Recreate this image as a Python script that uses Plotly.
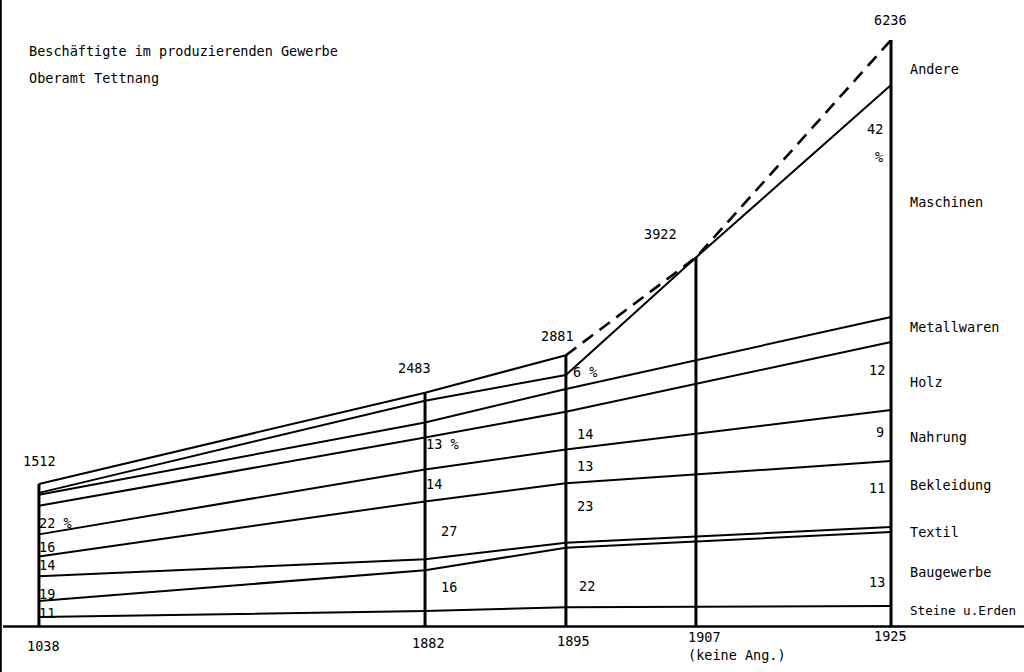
import plotly.graph_objects as go
import numpy as np

# ---------------- data ----------------
years = [1838, 1882, 1895, 1907, 1925]
year_labels = ["1038", "1882", "1895", "1907", "1925"]
year_note = "(keine Ang.)"
totals = [1512, 2483, 2881, 3922, 6236]

# years with a breakdown by branch (1907: keine Angaben)
data_years = [1838, 1882, 1895, 1925]
categories = ["Steine u.Erden", "Baugewerbe", "Textil", "Bekleidung", "Nahrung",
              "Holz", "Metallwaren", "Maschinen", "Andere"]
steine = [95, 159, 200, 213]
bau = [170, 435, 633, 787]
textil = [265, 117, 53, 53]
bekleidung = [210, 615, 633, 702]
nahrung = [235, 340, 359, 543]
holz = [305, 340, 401, 724]
metall = [117, 159, 243, 266]
maschinen = [20, 233, 148, 2469]
andere = [95, 85, 211, 479]

# percent labels written in the columns
pct_1838 = ["22 %", "16", "14", "19", "11"]
pct_1882 = ["13 %", "14", "27", "16"]
pct_1895 = ["6 %", "14", "13", "23", "22"]
pct_1925 = ["42", "%", "12", "9", "11", "13"]

title1 = "Beschäftigte im produzierenden Gewerbe"
title2 = "Oberamt Tettnang"

# ---------------- helpers ----------------
W, H = 1024, 672
BREAK_YEAR = 1882
COMPRESS = 0.8097  # the axis is compressed before 1882


def xpos(y):
    return y if y >= BREAK_YEAR else BREAK_YEAR - (BREAK_YEAR - y) * COMPRESS


X_RANGE = [1842.78, 1937.27]
Y_RANGE = [-489.5, 6661.7]
FONT = dict(family="DejaVu Sans Mono", size=13.5, color="black")
LW = 2.0

fig = go.Figure()

series = [steine, bau, textil, bekleidung, nahrung, holz, metall, maschinen, andere]
cum = np.cumsum(np.array(series), axis=0)
dx = [xpos(y) for y in data_years]

# internal boundaries (tops of Steine ... Metallwaren) drawn straight across 1907
for i in range(7):
    fig.add_trace(go.Scatter(x=dx, y=cum[i], mode="lines",
                             line=dict(color="black", width=LW), hoverinfo="skip"))

# top of Maschinen: passes through 1907 total (no "Andere" known there)
m_years = [1838, 1882, 1895, 1907, 1925]
m_vals = [cum[7][0], cum[7][1], cum[7][2], totals[3], cum[7][3]]
fig.add_trace(go.Scatter(x=[xpos(y) for y in m_years], y=m_vals, mode="lines",
                         line=dict(color="black", width=LW), hoverinfo="skip"))

# total line: solid up to 1895, dashed after
fig.add_trace(go.Scatter(x=[xpos(y) for y in years[:3]], y=totals[:3], mode="lines",
                         line=dict(color="black", width=LW), hoverinfo="skip"))
fig.add_trace(go.Scatter(x=[xpos(y) for y in years[2:]], y=totals[2:], mode="lines",
                         line=dict(color="black", width=2.6, dash="13px,8px"),
                         hoverinfo="skip"))

# vertical column lines
for y, t in zip(years, totals):
    fig.add_trace(go.Scatter(x=[xpos(y), xpos(y)], y=[-10, t], mode="lines",
                             line=dict(color="black", width=3), hoverinfo="skip"))

# base line and scan edge
fig.add_shape(type="line", xref="paper", yref="y", x0=0.003, x1=1, y0=-5, y1=-5,
              line=dict(color="black", width=2.5))
fig.add_shape(type="line", xref="paper", yref="paper", x0=0.0008, x1=0.0008, y0=0, y1=1,
              line=dict(color="black", width=2))


def txt(x, y, s, anchor="left", size=None):
    f = dict(FONT)
    if size:
        f["size"] = size
    fig.add_annotation(x=x / W, y=1 - y / H, xref="paper", yref="paper", text=s,
                       showarrow=False, xanchor=anchor, yanchor="middle", font=f,
                       borderpad=0)


# titles
txt(28, 51, title1)
txt(28, 78, title2)

# totals above columns
tot_pos = [(39, 461), (414, 368), (557, 336), (660, 234), (890, 20)]
for (x, y), t in zip(tot_pos, totals):
    txt(x, y, str(t), "center")

# year labels
yl_pos = [(43, 646), (428, 643), (573, 641), (687, 637), (890, 636)]
for (x, y), s in zip(yl_pos, year_labels):
    txt(x, y, s, "left" if s == "1907" else "center")
txt(687, 655, year_note)

# branch names on the right
names_right = ["Andere", "Maschinen", "Metallwaren", "Holz", "Nahrung",
               "Bekleidung", "Textil", "Baugewerbe", "Steine u.Erden"]
nr_y = [69, 202, 327, 382, 437, 485, 532, 572, 610]
for s, y in zip(names_right, nr_y):
    if s == "Steine u.Erden":
        txt(909, y, s, size=12.6)
    else:
        txt(909, y, s)

# percent labels
for s, y in zip(pct_1838, [523, 547, 565, 594, 613]):
    txt(38, y, s)
for s, (x, y) in zip(pct_1882, [(425, 444), (425, 484), (440, 531), (440, 587)]):
    txt(x, y, s)
for s, (x, y) in zip(pct_1895, [(572, 372), (576, 434), (576, 466), (576, 506), (578, 586)]):
    txt(x, y, s)
for s, (x, y) in zip(pct_1925, [(884, 129), (884, 157), (886, 370), (885, 432), (886, 488), (886, 582)]):
    txt(x, y, s, "right")

fig.update_layout(width=W, height=H, margin=dict(l=0, r=0, t=0, b=0),
                  paper_bgcolor="white", plot_bgcolor="white", showlegend=False,
                  xaxis=dict(range=X_RANGE, visible=False, fixedrange=True),
                  yaxis=dict(range=Y_RANGE, visible=False, fixedrange=True))

fig.write_html("out.html", config={"displayModeBar": False},
               post_script="document.body.style.margin='0';document.body.style.overflow='hidden';")
